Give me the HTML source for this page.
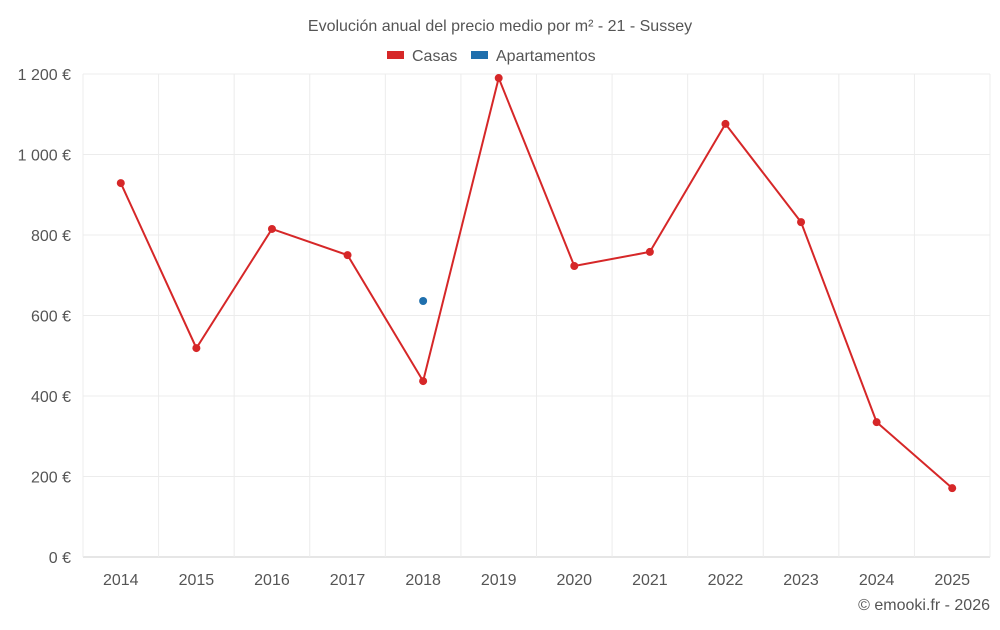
<!DOCTYPE html>
<html><head><meta charset="utf-8"><style>
body{margin:0;background:#fff;font-family:"Liberation Sans",sans-serif;}
svg text{font-family:"Liberation Sans",sans-serif;fill:#555;}
</style></head><body>
<svg id="c" width="1000" height="625" xmlns="http://www.w3.org/2000/svg">
<text x="500" y="31" text-anchor="middle" font-size="16">Evolución anual del precio medio por m² - 21 - Sussey</text>
<g>
<rect x="387" y="51" width="17" height="8" fill="#d62728"/>
<text x="412" y="61" font-size="16">Casas</text>
<rect x="471" y="51" width="17" height="8" fill="#1f6fad"/>
<text x="496" y="61" font-size="16">Apartamentos</text>
</g>
<g id="grid"></g><g id="axes"></g><g id="marks"></g>
<text x="990" y="610" text-anchor="end" font-size="16">© emooki.fr - 2026</text>
</svg>
<script>
const years=["2014","2015","2016","2017","2018","2019","2020","2021","2022","2023","2024","2025"];
const casas=[929,519,815,750,437,1190,723,758,1076,832,335,171];
const apartamentos=[null,null,null,null,636,null,null,null,null,null,null,null];
const yTicks=[0,200,400,600,800,1000,1200];
const yTickLabels=["0 €","200 €","400 €","600 €","800 €","1 000 €","1 200 €"];
const NS="http://www.w3.org/2000/svg";
const L=83,R=990,T=74,B=557,yMax=1200;
const bw=(R-L)/years.length;
const xs=i=>L+bw*(i+0.5);
const ys=v=>B-(v/yMax)*(B-T);
function mk(t,a,p){const e=document.createElementNS(NS,t);for(const k in a)e.setAttribute(k,a[k]);p.appendChild(e);return e;}
const grid=document.getElementById('grid'),axes=document.getElementById('axes'),marks=document.getElementById('marks');
yTicks.forEach((v,i)=>{
 const g=mk('line',{x1:L,x2:R,y1:ys(v),y2:ys(v),stroke:i==0?'#ccc':'#ececec','stroke-width':1},grid);
 
 
 const t=mk('text',{x:71,y:ys(v)+6,'text-anchor':'end','font-size':16},axes);
 t.textContent=yTickLabels[i];
 
 
});
for(let i=0;i<=years.length;i++){
 const g=mk('line',{x1:L+bw*i,x2:L+bw*i,y1:T,y2:B+(i==0?0:0),stroke:'#ececec','stroke-width':1},grid);
 
 
}
years.forEach((y,i)=>{
 const t=mk('text',{x:xs(i),y:585,'text-anchor':'middle','font-size':16},axes);
 t.textContent=y;
 
 
});
function series(vals,color,name){
 let d='';vals.forEach((v,i)=>{if(v!=null)d+=(d?'L':'M')+xs(i)+','+ys(v);});
 if(d.indexOf('L')>0){const p=mk('path',{d:d,fill:'none',stroke:color,'stroke-width':2},marks);
 
 }
 vals.forEach((v,i)=>{if(v==null)return;
  const c=mk('circle',{cx:xs(i),cy:ys(v),r:4,fill:color},marks);
  
  });
}
series(casas,'#d62728','casas');
series(apartamentos,'#1f6fad','apartamentos');
</script>
</body></html>
